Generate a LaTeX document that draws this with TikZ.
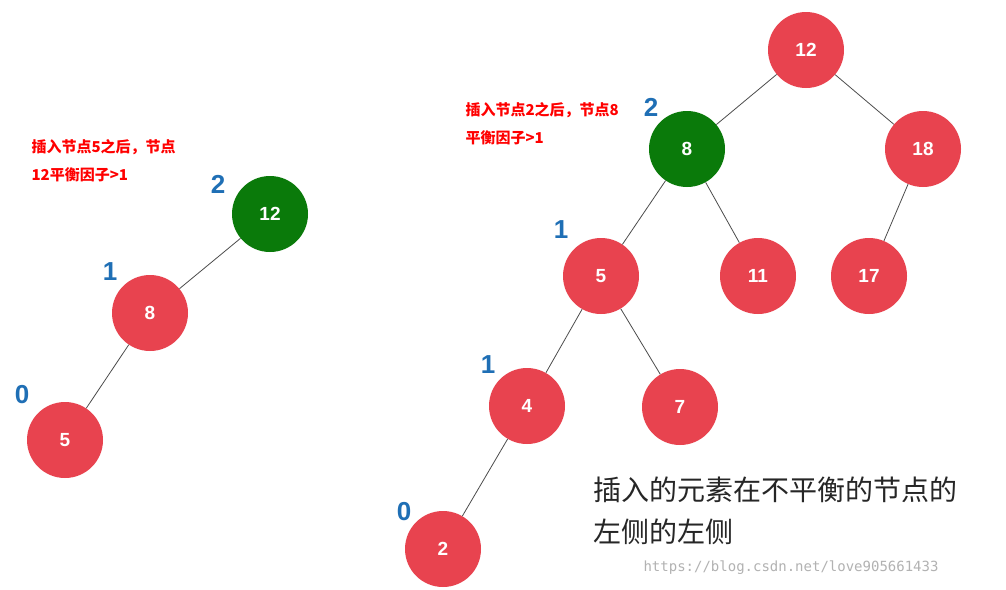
\documentclass[tikz,border=0pt]{standalone}
\usepackage{fontspec}
\setmainfont{Liberation Sans}
\newfontfamily\cjk{Noto Sans CJK SC}
\newfontfamily\wm{DejaVu Sans Mono}
\begin{document}
\begin{tikzpicture}[x=1pt,y=-1pt,
 rn/.style={circle,fill=nred,minimum size=76pt,inner sep=0pt,text=white,font=\bfseries\fontsize{19}{19}\selectfont},
 gn/.style={rn,fill=ngreen},
 bl/.style={text=nblue,font=\bfseries\fontsize{26}{26}\selectfont},
 note/.style={text=red,anchor=west,font=\cjk\bfseries\fontsize{15}{15}\selectfont},
 edge/.style={draw=black!70,line width=0.8pt}]
\definecolor{nred}{HTML}{E8434F}
\definecolor{ngreen}{HTML}{0A7A0A}
\definecolor{nblue}{HTML}{1F6FB5}
\useasboundingbox (0,0) rectangle (1006,589);
\fill[white] (0,0) rectangle (1006,589);
% left tree
\node[gn] (a12) at (270,214) {12};
\node[rn] (a8) at (150,313) {8};
\node[rn] (a5) at (65,440) {5};
\draw[edge] (a12) -- (a8);
\draw[edge] (a8) -- (a5);
\node[bl] (la) at (218,184) {2};
\node[bl] (lb) at (110,272) {1};
\node[bl] (lc) at (22,395) {0};
\node[note] (n1) at (28,147) {插入节点5之后，节点};
\node[note] (n2) at (28,175) {12平衡因子>1};
% right tree
\node[rn] (b12) at (806,50) {12};
\node[gn] (b8) at (687,149) {8};
\node[rn] (b18) at (923,149) {18};
\node[rn] (b5) at (601,276) {5};
\node[rn] (b11) at (758,276) {11};
\node[rn] (b17) at (869,276) {17};
\node[rn] (b4) at (527,406) {4};
\node[rn] (b7) at (680,407) {7};
\node[rn] (b2) at (443,549) {2};
\foreach \p/\c in {b12/b8,b12/b18,b8/b5,b8/b11,b18/b17,b5/b4,b5/b7,b4/b2}
  \draw[edge] (\p) -- (\c);
\node[bl] (ld) at (651,107) {2};
\node[bl] (le) at (561,230) {1};
\node[bl] (lf) at (488,365) {1};
\node[bl] (lg) at (404,512) {0};
\node[note] (n3) at (462,110) {插入节点2之后，节点8};
\node[note] (n4) at (462,138) {平衡因子>1};
\node[anchor=west,font=\cjk\fontsize{28}{28}\selectfont,text=black!85] (t1) at (590,490) {插入的元素在不平衡的节点的};
\node[anchor=west,font=\cjk\fontsize{28}{28}\selectfont,text=black!85] (t2) at (590,532) {左侧的左侧};
\node[anchor=west,font=\wm\fontsize{14}{14}\selectfont,text=black!30] (w) at (640,568) {https://blog.csdn.net/love905661433};
\end{tikzpicture}
\end{document}
